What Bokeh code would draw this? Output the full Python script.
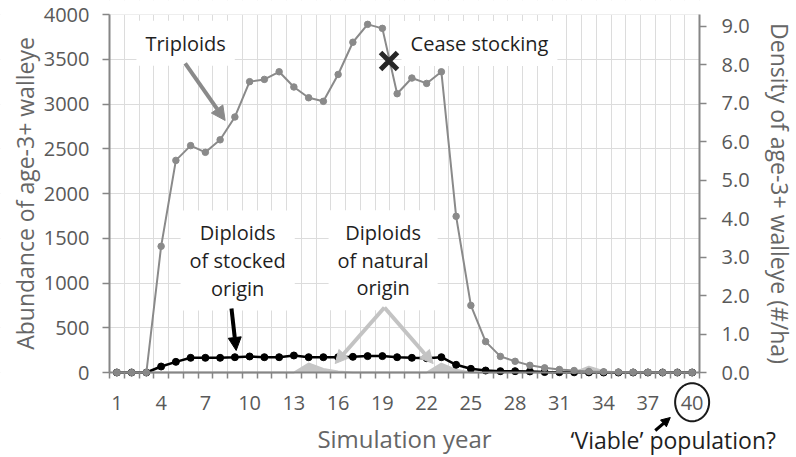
import numpy as np
from bokeh.plotting import figure
from bokeh.models import (Range1d, LinearAxis, FixedTicker, Label, Arrow,
                          NormalHead, NumeralTickFormatter, PolyAnnotation,
                          BoxAnnotation)
from bokeh.embed import file_html
from bokeh.resources import INLINE

# ---------------- data ----------------
years = list(range(1, 41))
triploids = [0, 0, 0, 1410, 2370, 2535, 2460, 2600, 2855, 3250,
             3275, 3360, 3190, 3070, 3030, 3330, 3690, 3890, 3845, 3115,
             3290, 3230, 3360, 1745, 750, 345, 180, 125, 80, 52,
             34, 22, 12, 8, 5, 3, 2, 1, 1, 0]
stocked_diploids = [0, 0, 0, 67, 119, 164, 164, 164, 171, 179,
                    171, 171, 190, 171, 171, 171, 175, 183, 183, 171,
                    164, 160, 171, 86, 41, 22, 15, 15, 12, 5,
                    3, 2, 1, 0, 0, 0, 0, 0, 0, 0]
natural_diploids = [0, 0, 0, 0, 0, 0, 0, 0, 0, 0,
                    0, 0, 0, 100, 40, 10, 0, 0, 0, 0,
                    0, 0, 100, 30, 0, 0, 0, 0, 0, 0,
                    0, 0, 65, 15, 0, 0, 0, 0, 0, 0]
x_tick_labels = list(range(1, 41, 3))
y_ticks = list(range(0, 4001, 500))
y_max = 4000
density_ticks = list(range(0, 10))
density_max = 9.3
cease_year, cease_value = 19.45, 3480
viable_year = 40

FONT = "Open Sans"
TICK_COLOR = "#595959"
TITLE_COLOR = "#666666"
AXIS_COLOR = "#868686"
GRID_COLOR = "#dcdcdc"
TEXT_COLOR = "#1f1f1f"

# layout: the plotting area (590 x 358 px, from x=109, y=14) sits inside a frame
# covering the whole canvas, so that notes outside the axes are drawn too
X0, X1 = 0.5, 40.5
PX_PER_YEAR = 590 / (X1 - X0)
PX_PER_UNIT = 358 / y_max
LEFT_PX, TOP_PX = 109, 14
FRAME_W, FRAME_H = 796, 457
x_start = X0 - LEFT_PX / PX_PER_YEAR
x_end = x_start + FRAME_W / PX_PER_YEAR
y_end = y_max + TOP_PX / PX_PER_UNIT
y_start = y_end - FRAME_H / PX_PER_UNIT

p = figure(frame_width=FRAME_W, frame_height=FRAME_H,
           x_range=Range1d(x_start, x_end), y_range=Range1d(y_start, y_end),
           output_backend="svg", toolbar_location=None,
           min_border_left=0, min_border_right=0,
           min_border_top=0, min_border_bottom=0)
p.outline_line_color = None
p.background_fill_color = "white"

# grids
p.xgrid.ticker = FixedTicker(ticks=[i + 0.5 for i in range(41)])
p.ygrid.ticker = FixedTicker(ticks=y_ticks)
for g in (p.xgrid, p.ygrid):
    g.grid_line_color = GRID_COLOR
    g.grid_line_width = 1
# keep the grid inside the plotting area
for kw in (dict(top=0), dict(bottom=y_max), dict(left=X1), dict(right=X0)):
    p.add_layout(BoxAnnotation(fill_color="white", fill_alpha=1,
                               line_color=None, level="underlay", **kw))

# bottom axis
xa = p.xaxis[0]
xa.fixed_location = 0
xa.bounds = (X0, X1)
xa.ticker = FixedTicker(ticks=x_tick_labels, minor_ticks=[i + 0.5 for i in range(41)])
xa.major_tick_out = 0
xa.major_tick_in = 0
xa.minor_tick_out = 6
xa.minor_tick_in = 0
xa.minor_tick_line_color = AXIS_COLOR
xa.minor_tick_line_width = 1.5
xa.axis_line_color = AXIS_COLOR
xa.axis_line_width = 2
xa.major_label_text_font = FONT
xa.major_label_text_font_size = "20px"
xa.major_label_text_color = TICK_COLOR
xa.major_label_standoff = 17
xa.axis_label = "Simulation year"
xa.axis_label_text_font = FONT
xa.axis_label_text_font_size = "24px"
xa.axis_label_text_font_style = "normal"
xa.axis_label_text_color = TITLE_COLOR
xa.axis_label_standoff = 9

# left axis
ya = p.yaxis[0]
ya.fixed_location = X0
ya.bounds = (0, y_max)
ya.ticker = FixedTicker(ticks=y_ticks)
ya.major_tick_out = 7
ya.major_tick_in = 0
ya.minor_tick_line_color = None
ya.major_tick_line_color = AXIS_COLOR
ya.major_tick_line_width = 1.5
ya.axis_line_color = AXIS_COLOR
ya.axis_line_width = 2
ya.major_label_text_font = FONT
ya.major_label_text_font_size = "20px"
ya.major_label_text_color = TICK_COLOR
ya.major_label_standoff = 13
ya.axis_label = "Abundance of age-3+ walleye"
ya.axis_label_text_font = FONT
ya.axis_label_text_font_size = "23px"
ya.axis_label_text_font_style = "normal"
ya.axis_label_text_color = TITLE_COLOR
ya.axis_label_standoff = 0

# right axis
dens_scale = density_max / y_max
p.extra_y_ranges = {"dens": Range1d(y_start * dens_scale, y_end * dens_scale)}
ra = LinearAxis(y_range_name="dens", ticker=FixedTicker(ticks=density_ticks),
                formatter=NumeralTickFormatter(format="0.0"))
ra.fixed_location = X1
ra.bounds = (0, density_max)
ra.major_tick_out = 7
ra.major_tick_in = 0
ra.minor_tick_line_color = None
ra.major_tick_line_color = AXIS_COLOR
ra.major_tick_line_width = 1.5
ra.axis_line_color = AXIS_COLOR
ra.axis_line_width = 2
ra.major_label_text_font = FONT
ra.major_label_text_font_size = "20px"
ra.major_label_text_color = TICK_COLOR
ra.major_label_standoff = 15
ra.axis_label = "Density of age-3+ walleye (#/ha)"
ra.axis_label_text_font = FONT
ra.axis_label_text_font_size = "23px"
ra.axis_label_text_font_style = "normal"
ra.axis_label_text_color = TITLE_COLOR
ra.axis_label_standoff = 11
ra.axis_label_orientation = "vertical"
p.add_layout(ra, "right")

# text boxes (under the data, over the grid)
def box_label(x, y, text, align="center"):
    lab = Label(x=x, y=y, text=text, text_align=align, text_baseline="middle",
                text_font=FONT, text_font_size="20px", text_color=TEXT_COLOR,
                text_line_height=1.02, background_fill_color="white",
                padding=9, level="underlay")
    p.add_layout(lab)

box_label(5.66, 3679, "Triploids")
box_label(20.3, 3676, "Cease stocking", align="left")
box_label(9.19, 1251, "Diploids\nof stocked\norigin")
box_label(19.05, 1255, "Diploids\nof natural\norigin")

# series
p.varea(x=years, y1=[0] * len(years), y2=natural_diploids, fill_color="#c6c6c6")
p.line(years, natural_diploids, line_color="#c6c6c6", line_width=2)
p.line(years, stocked_diploids, line_color="black", line_width=2.5)
p.scatter(years, stocked_diploids, size=7, fill_color="black", line_color="black")
p.line(years, triploids, line_color="#8a8a8a", line_width=2)
p.scatter(years, triploids, size=6.5, fill_color="#8a8a8a", line_color="#8a8a8a")

# cease stocking marker
p.scatter([cease_year], [cease_value], marker="x", size=24, line_width=5,
          line_color="#262626")

# arrows
def arrow(x0, y0, x1, y1, color, width=4, head=13):
    p.add_layout(Arrow(end=NormalHead(size=head, fill_color=color, line_color=color),
                       x_start=x0, y_start=y0, x_end=x1, y_end=y1,
                       line_color=color, line_width=width))

arrow(5.63, 3453, 8.34, 2816, "#8a8a8a", width=4, head=14)
arrow(8.77, 715, 9.09, 246, "black", width=4, head=13)
arrow(19.14, 726, 15.8, 100, "#c3c3c3", width=4, head=13)
arrow(19.14, 726, 22.44, 100, "#c3c3c3", width=4, head=13)
arrow(37.5, -648, 38.52, -503, "black", width=3, head=9)

# circle around the "40" tick label
t = np.linspace(0, 2 * np.pi, 73)
p.add_layout(PolyAnnotation(xs=list(viable_year + 17 / PX_PER_YEAR * np.cos(t)),
                            ys=list(-332 + 19 / PX_PER_UNIT * np.sin(t)),
                            fill_color=None, fill_alpha=0, line_color="#1a1a1a",
                            line_alpha=1, line_width=2))

p.add_layout(Label(x=38.72, y=-755, text="\u2018Viable\u2019 population?",
                   text_align="center", text_baseline="middle", text_font=FONT,
                   text_font_size="23px", text_color=TEXT_COLOR))

open("out.html", "w").write(file_html(p, INLINE))
